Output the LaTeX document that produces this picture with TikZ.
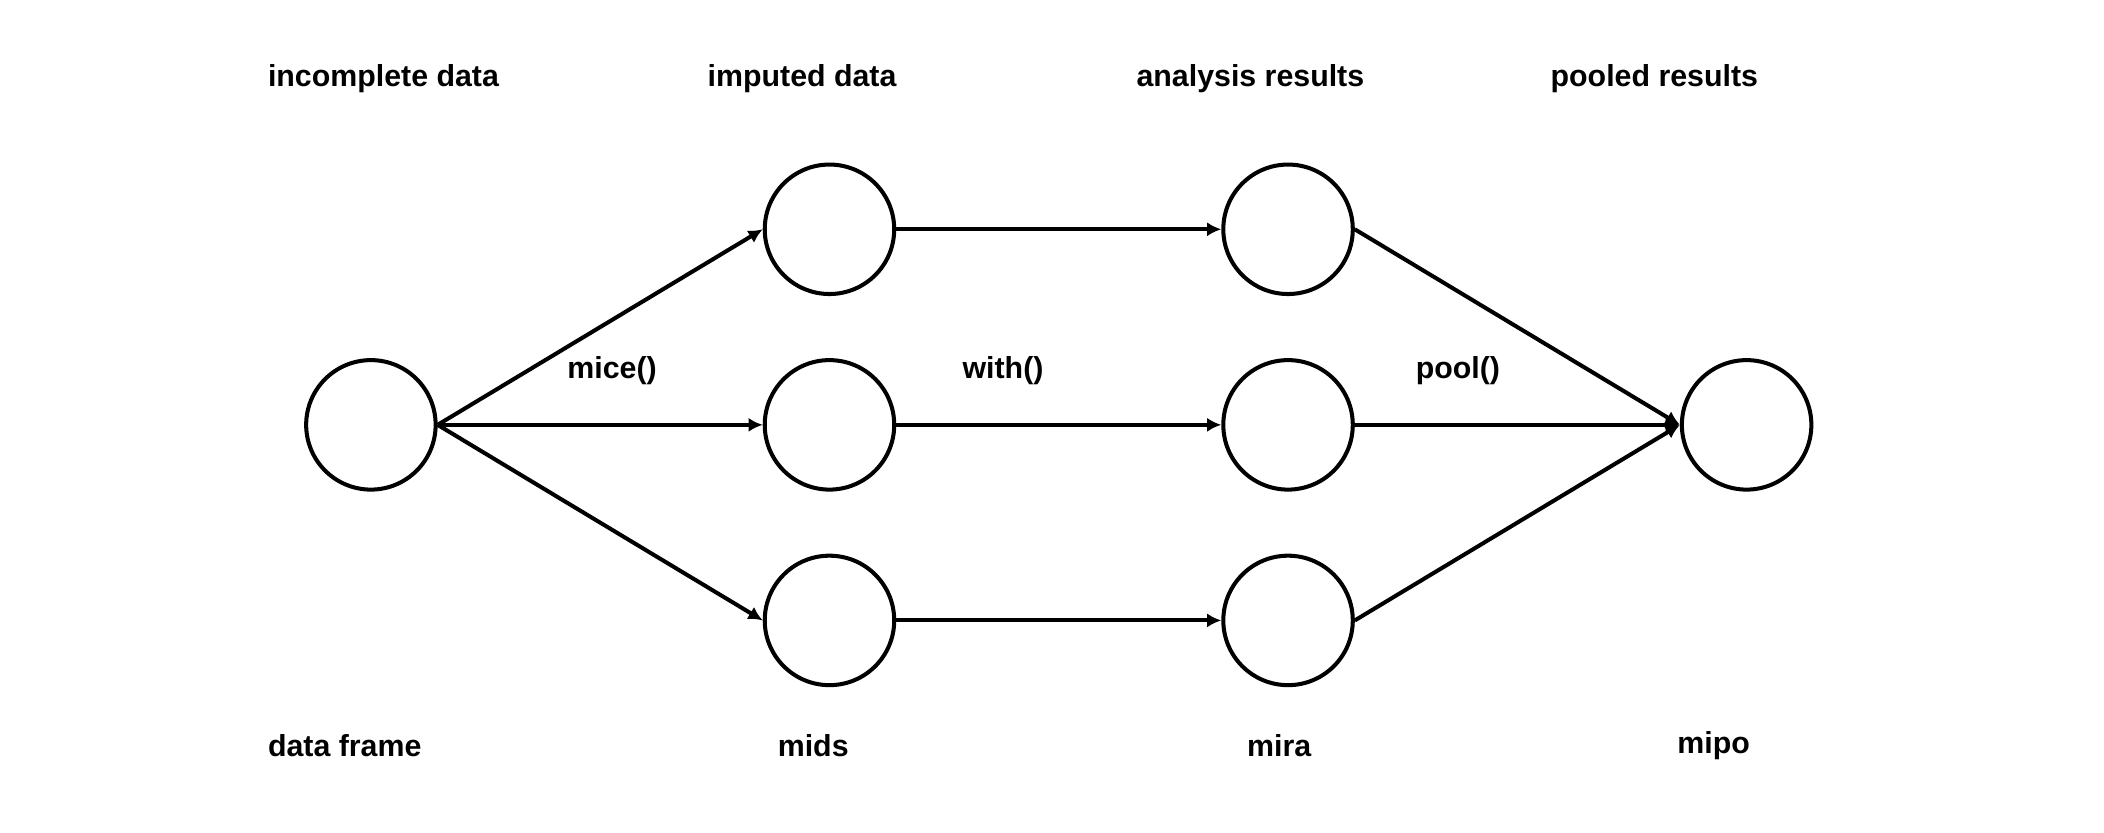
\documentclass[tikz,border=0pt]{standalone}
\usepackage{fontspec}
\setmainfont{Liberation Sans}
\usetikzlibrary{arrows.meta}
\begin{document}
\begin{tikzpicture}
      \tikzstyle{every node}=[font=\bfseries\fontsize{6.4}{7.5}\selectfont]
      \tikzstyle{obj}=[draw,circle,line width=0.85pt,minimum size=0.96cm,inner sep=0pt]
      \tikzstyle{flow}=[line width=0.85pt,-{Latex[length=3pt,width=3pt]}]
      \tikzstyle{lab}=[anchor=west,inner sep=0pt]
      \useasboundingbox (0,0) rectangle (15.6,6.17);
      %% stage titles
      \node[lab] (tinc) at (1.98,5.59) {incomplete data};
      \node[lab] (timp) at (5.24,5.59) {imputed data};
      \node[lab] (tana) at (8.42,5.59) {analysis results};
      \node[lab] (tpoo) at (11.49,5.59) {pooled results};
      % class names
      \node[lab] (cdf) at (1.98,0.64) {data frame};
      \node[lab] (cmids) at (5.76,0.64) {mids};
      \node[lab] (cmira) at (9.24,0.64) {mira};
      \node[lab] (cmipo) at (12.43,0.64) {mipo};
      % functions
      \node[lab] (fmice) at (4.20,3.42) {mice()};
      \node[lab] (fwith) at (7.13,3.42) {with()};
      \node[lab] (fpool) at (10.49,3.42) {pool()};
      % objects
      \node[obj] (df) at (2.75,3.02) {};
      \node[obj] (imp1) at (6.15,4.47) {};
      \node[obj] (imp2) at (6.15,3.02) {};
      \node[obj] (imp3) at (6.15,1.57) {};
      \node[obj] (fit1) at (9.55,4.47) {};
      \node[obj] (fit2) at (9.55,3.02) {};
      \node[obj] (fit3) at (9.55,1.57) {};
      \node[obj] (est) at (12.95,3.02) {};
      % arrows
      \draw[flow] (df.east) -- (imp1.west);
      \draw[flow] (df.east) -- (imp2.west);
      \draw[flow] (df.east) -- (imp3.west);
      \foreach \i in {1,2,3}
        \draw[flow] (imp\i.east) -- (fit\i.west);
      \foreach \i in {1,2,3}
        \draw[flow] (fit\i.east) -- (est.west);
\end{tikzpicture}
\end{document}
